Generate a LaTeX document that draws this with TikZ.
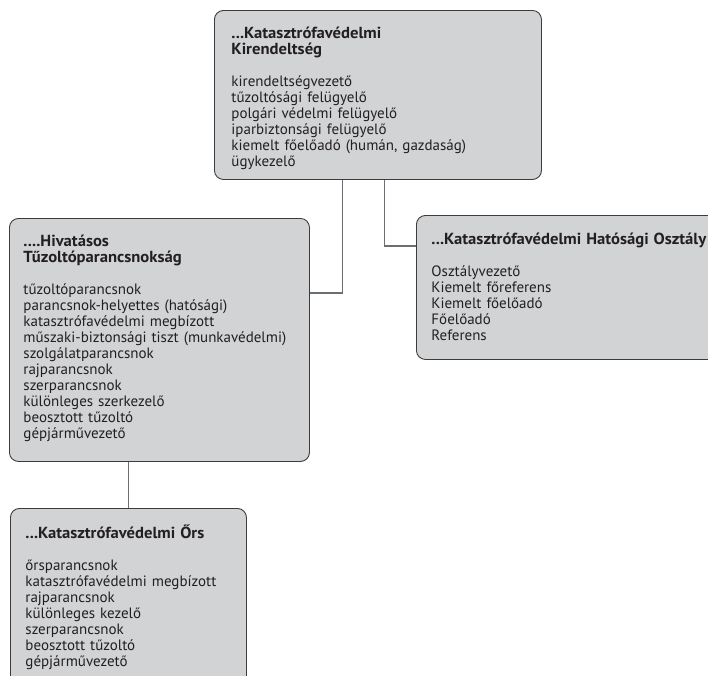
\documentclass[tikz,border=0pt]{standalone}
\usepackage{fontspec}
\setmainfont{PT Sans}
\newfontfamily\cimfont[FakeStretch=1.04]{PT Sans}
\usetikzlibrary{calc}

\definecolor{boxfill}{HTML}{D1D3D4}
\definecolor{boxline}{HTML}{3C3C3C}
\definecolor{connline}{HTML}{6D6E71}
\definecolor{textcol}{HTML}{231F20}

\newcommand{\cim}[1]{{\cimfont\bfseries\fontsize{16}{16}\selectfont #1}}

\begin{document}
\begin{tikzpicture}[x=1pt, y=-1pt,
  egyseg/.style={draw=boxline, line width=0.9pt, fill=boxfill, rounded corners=9pt,
    anchor=north west, align=left, inner xsep=16pt, inner ysep=15pt,
    text height=13pt, font=\fontsize{15}{16}\selectfont, text=textcol},
  kapcs/.style={draw=connline, line width=1.1pt}]
  \useasboundingbox (0,0) rectangle (708,675);
  \clip (0,0) rectangle (708,675);
  % the four units
  \node[egyseg, text width=293pt, text depth=126pt, inner xsep=17pt] (kir) at (214,10)
    {\cim{...Katasztrófavédelmi}\\ \cim{Kirendeltség}\\[16pt]
     kirendeltségvezető\\ tűzoltósági felügyelő\\ polgári védelmi felügyelő\\
     iparbiztonsági felügyelő\\ kiemelt főelőadó (humán, gazdaság)\\ ügykezelő};
  \node[egyseg, text width=272pt, text depth=200pt, inner xsep=14pt] (hiv) at (9,218)
    {\cim{....Hivatásos}\\ \cim{Tűzoltóparancsnokság}\\[16pt]
     tűzoltóparancsnok\\ parancsnok-helyettes (hatósági)\\ katasztrófavédelmi megbízott\\
     műszaki-biztonsági tiszt (munkavédelmi)\\ szolgálatparancsnok\\ rajparancsnok\\
     szerparancsnok\\ különleges szerkezelő\\ beosztott tűzoltó\\ gépjárművezető};
  \node[egyseg, text width=300pt, text depth=99pt, inner ysep=16pt, inner xsep=15pt] (hat) at (416,215)
    {\cim{...Katasztrófavédelmi Hatósági Osztály}\\[16pt]
     Osztályvezető\\ Kiemelt főreferens\\ Kiemelt főelőadó\\ Főelőadó\\ Referens};
  \node[egyseg, text width=206pt, text depth=133pt, inner ysep=17pt, inner xsep=15pt] (ors) at (10,508)
    {\cim{...Katasztrófavédelmi Őrs}\\[16pt]
     őrsparancsnok\\ katasztrófavédelmi megbízott\\ rajparancsnok\\ különleges kezelő\\
     szerparancsnok\\ beosztott tűzoltó\\ gépjárművezető};
  % connectors
  \draw[kapcs] ([xshift=-35.5pt]kir.south) |- ([yshift=-75pt]hiv.north east);
  \draw[kapcs] ([xshift=6.5pt]kir.south) |- ([yshift=-31pt]hat.north west);
  \draw[kapcs] (hiv.south -| ors.north) -- (ors.north);
\end{tikzpicture}
\end{document}
